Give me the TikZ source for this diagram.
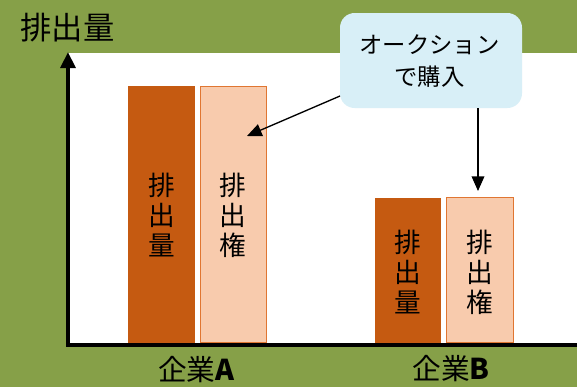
\documentclass[tikz,border=0pt]{standalone}
\usepackage{fontspec}
\newfontfamily\jp{Noto Sans CJK JP}
\usetikzlibrary{arrows.meta}
\definecolor{bggreen}{RGB}{134,160,72}
\definecolor{darkbar}{RGB}{197,90,17}
\definecolor{lightbar}{RGB}{248,203,173}
\definecolor{lightedge}{RGB}{224,118,50}
\definecolor{calloutfill}{RGB}{216,239,247}
\tikzset{
  darkbox/.style={fill=darkbar, draw=none},
  lightbox/.style={fill=lightbar, draw=lightedge, line width=0.9pt},
  bartext/.style={font=\jp\fontsize{20}{22.5}\selectfont, align=center, inner sep=0pt},
  axisline/.style={line width=3pt, black},
  callarrow/.style={line width=1pt, -{Triangle[length=11pt,width=9.5pt]}},
  catlabel/.style={font=\jp\fontsize{21.5}{24}\selectfont, inner sep=0pt},
}
\begin{document}
\begin{tikzpicture}[x=0.75pt,y=-0.75pt]
\useasboundingbox (0,0) rectangle (577,387);
\fill[bggreen] (0,0) rectangle (577,387);
\fill[white] (68,53) rectangle (577,343);
% bars company A
\node[darkbox, minimum width=50.25pt, minimum height=192.75pt, anchor=south west, inner sep=0pt] (a1) at (128,343) {};
\node[lightbox, minimum width=49.5pt, minimum height=192.2pt, anchor=south west, inner sep=0pt] (a2) at (199.5,343) {};
% bars company B
\node[darkbox, minimum width=49.5pt, minimum height=108.75pt, anchor=south west, inner sep=0pt] (b1) at (375,343) {};
\node[lightbox, minimum width=50.25pt, minimum height=108.8pt, anchor=south west, inner sep=0pt] (b2) at (445.5,343) {};
\node[bartext] (ta1) at (161.5,215) {排\\出\\量};
\node[bartext] (ta2) at (233,215) {排\\出\\権};
\node[bartext] (tb1) at (408,272) {排\\出\\量};
\node[bartext] (tb2) at (479.5,272) {排\\出\\権};
% axes
\coordinate (origin) at (66,345);
\coordinate (xend) at (577,345);
\coordinate (ytop) at (68,52);
\draw[axisline] (origin) -- (xend);
\draw[axisline, -{Triangle[length=12pt,width=11pt]}] (68,346.5) -- (ytop);
% labels
\node[font=\jp\fontsize{23.5}{26}\selectfont, inner sep=0pt] (ylab) at (67.5,28) {排出量};
\node[catlabel] (la) at (196.5,370) {企業\textbf{A}};
\node[catlabel] (lb) at (451,369) {企業\textbf{B}};
% callout
\node[fill=calloutfill, rounded corners=11pt, minimum width=136.5pt, minimum height=71.25pt, inner sep=0pt] (call) at (431,60.5) {};
\node[font=\jp\fontsize{17.5}{23.5}\selectfont, align=center, inner sep=0pt] (calltext) at (429.5,61) {オークション\\で購入};
\coordinate (c1) at (340,96);
\coordinate (c2) at (478,108);
\coordinate (t1) at (247,136);
\coordinate (t2) at (478,191);
\draw[callarrow] (c1) -- (t1);
\draw[callarrow] (c2) -- (t2);
\end{tikzpicture}
\end{document}
